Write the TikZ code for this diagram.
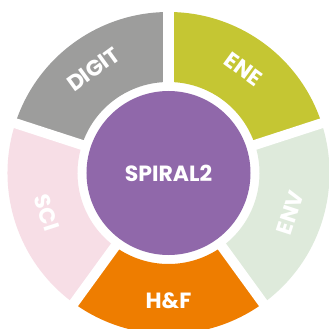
\documentclass[tikz,border=0pt]{standalone}
\usepackage{fontspec}
\setmainfont{Poppins}
\definecolor{digitgray}{HTML}{9D9D9C}
\definecolor{eneolive}{HTML}{C5C633}
\definecolor{envgreen}{HTML}{DEEADB}
\definecolor{hforange}{HTML}{EE7D00}
\definecolor{scipink}{HTML}{F7DEE6}
\definecolor{spiralpurple}{HTML}{9068AA}
\begin{document}
\begin{tikzpicture}[x=1pt,y=1pt,
  seglabel/.style={text=white,font=\bfseries\fontsize{22}{22}\selectfont,inner sep=0pt},
  gapline/.style={white,line width=10pt}]
  \useasboundingbox[fill=white] (-168.5,-156) rectangle (160.5,173);
  % ring sectors
  \fill[eneolive] (18:91) arc[start angle=18,end angle=90,radius=91] -- (90:161) arc[start angle=90,end angle=18,radius=161] -- cycle;
  \fill[digitgray] (90:91) arc[start angle=90,end angle=162,radius=91] -- (162:161) arc[start angle=162,end angle=90,radius=161] -- cycle;
  \fill[scipink] (162:91) arc[start angle=162,end angle=234,radius=91] -- (234:161) arc[start angle=234,end angle=162,radius=161] -- cycle;
  \fill[hforange] (234:91) arc[start angle=234,end angle=306,radius=91] -- (306:161) arc[start angle=306,end angle=234,radius=161] -- cycle;
  \fill[envgreen] (306:91) arc[start angle=306,end angle=378,radius=91] -- (378:161) arc[start angle=378,end angle=306,radius=161] -- cycle;
  % white gaps
  \draw[gapline] (0,0) -- (18:175);
  \draw[gapline] (0,0) -- (90:175);
  \draw[gapline] (0,0) -- (162:175);
  \draw[gapline] (0,0) -- (234:175);
  \draw[gapline] (0,0) -- (306:175);
  % core
  \node[circle,fill=spiralpurple,minimum size=164pt,inner sep=0pt,text=white,
    font=\bfseries\fontsize{22}{22}\selectfont] (spiral) at (0,0) {SPIRAL2};
  % labels
  \node[seglabel,rotate=-36] (ene) at (54:128) {ENE};
  \node[seglabel,rotate=36] (digit) at (126:128) {DIGIT};
  \node[seglabel,rotate=-72] (sci) at (198:128) {SCI};
  \node[seglabel] (hf) at (270:128) {H\&F};
  \node[seglabel,rotate=72] (env) at (342:128) {ENV};
\end{tikzpicture}
\end{document}
